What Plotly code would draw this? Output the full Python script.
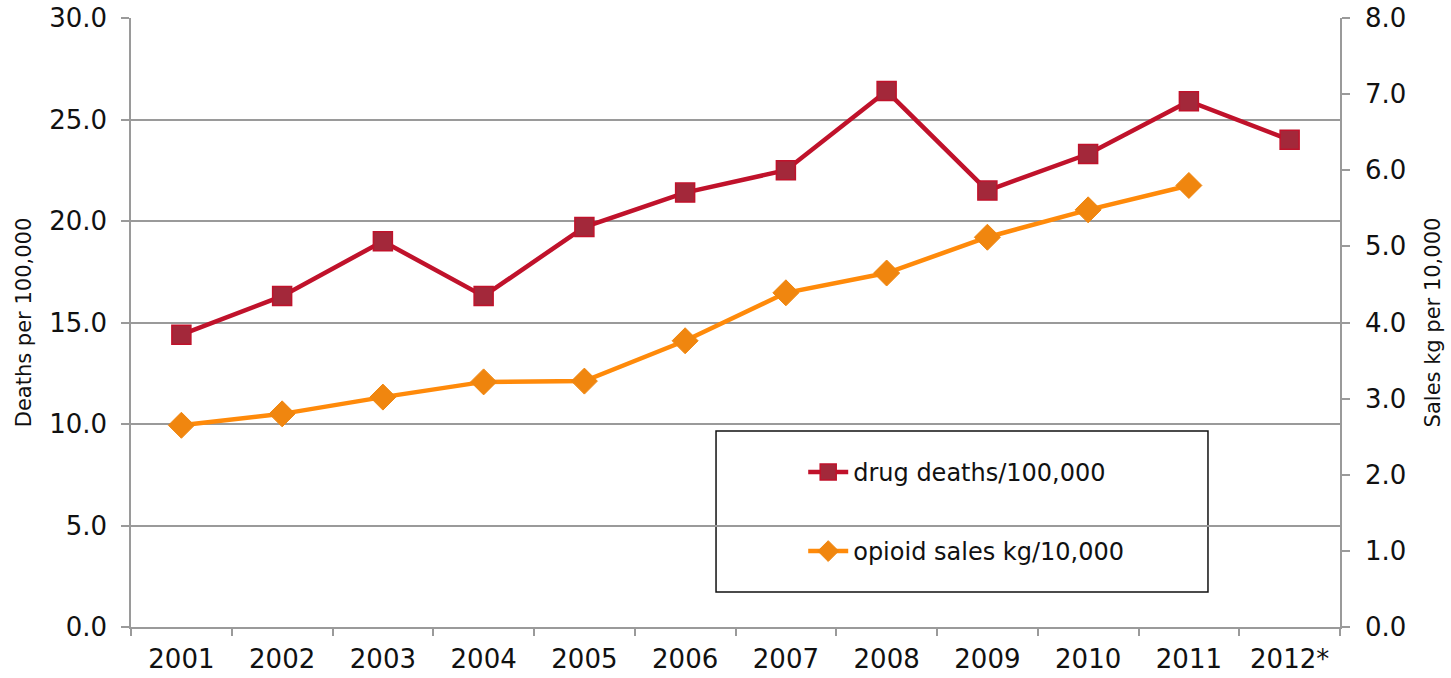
import plotly.graph_objects as go

years = ["2001", "2002", "2003", "2004", "2005", "2006", "2007", "2008", "2009", "2010", "2011", "2012*"]
drug_deaths = [14.4, 16.3, 19.0, 16.3, 19.7, 21.4, 22.5, 26.4, 21.5, 23.3, 25.9, 24.0]
opioid_sales = [2.65, 2.80, 3.02, 3.22, 3.23, 3.76, 4.39, 4.65, 5.12, 5.48, 5.80, None]

FONT = "DejaVu Sans, Verdana, sans-serif"
GRAY = "#9a9a9a"

fig = go.Figure()
fig.add_trace(go.Scatter(
    x=years, y=drug_deaths, name="drug deaths/100,000", mode="lines+markers",
    line=dict(color="#C0122B", width=4.5),
    marker=dict(symbol="square", size=19, color="#A3283A", line=dict(color="#C0122B", width=1.5)),
    legendgroup="a", yaxis="y"))
fig.add_trace(go.Scatter(
    x=years, y=opioid_sales, name="opioid sales kg/10,000", mode="lines+markers",
    line=dict(color="#FF8A0A", width=4.5),
    marker=dict(symbol="diamond", size=20, color="#F0860F", line=dict(color="#F0860F", width=1)),
    legendgroup="b", yaxis="y2"))

fig.update_layout(
    width=1451, height=678, autosize=False,
    margin=dict(l=131, r=111, t=18, b=51),
    paper_bgcolor="white", plot_bgcolor="white",
    font=dict(family=FONT, size=26, color="#111111"),
    showlegend=True,
    legend=dict(x=0.556, xanchor="left", y=0.291, yanchor="top",
                bgcolor="rgba(0,0,0,0)", borderwidth=0,
                font=dict(family=FONT, size=24, color="#111111"),
                tracegroupgap=45, itemwidth=40),
    xaxis=dict(type="category", showgrid=False, showline=True, linecolor=GRAY, linewidth=1.5,
               ticks="outside", tickson="boundaries", ticklen=7, tickcolor=GRAY, tickwidth=1.5,
               tickfont=dict(size=26), range=[-0.5, 11.5], automargin=False,
               ticklabelstandoff=8),
    yaxis=dict(range=[0, 30], dtick=5, tickformat=".1f", showgrid=True, gridcolor=GRAY, gridwidth=1.5,
               showline=True, linecolor=GRAY, linewidth=1.5, ticks="outside", ticklen=8,
               tickcolor=GRAY, tickwidth=1.5, zeroline=False, automargin=False,
               ticklabelstandoff=9,
               title=dict(text="Deaths per 100,000", font=dict(size=21), standoff=12),
               tickfont=dict(size=26)),
    yaxis2=dict(range=[0, 8], dtick=1, tickformat=".1f", overlaying="y", side="right",
                showgrid=False, showline=True, linecolor=GRAY, linewidth=1.5, ticks="outside",
                ticklen=8, tickcolor=GRAY, tickwidth=1.5, zeroline=False, automargin=False,
                ticklabelstandoff=10,
                title=dict(text="Sales kg per 10,000", font=dict(size=21), standoff=20),
                tickfont=dict(size=26)),
    shapes=[dict(type="rect", xref="paper", yref="paper",
                 x0=0.4839, x1=0.8908, y0=0.0575, y1=0.3218,
                 line=dict(color="#111111", width=1.5), fillcolor="white", layer="below")],
)

fig.write_html("out.html")
